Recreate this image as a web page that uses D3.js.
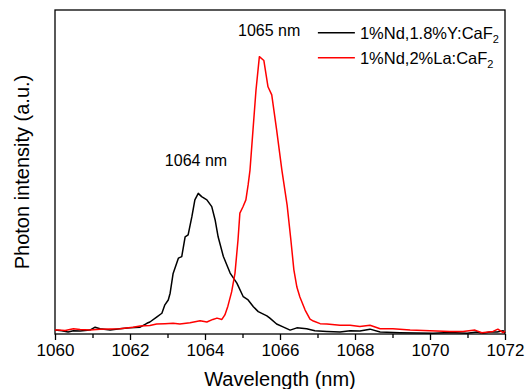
<!DOCTYPE html>
<html>
<head>
<meta charset="utf-8">
<script src="https://cdn.jsdelivr.net/npm/d3@7"></script>
<style>
  html, body { margin: 0; padding: 0; background: #fff; }
  svg { display: block; font-family: 'Liberation Sans', Arial, sans-serif; }
</style>
</head>
<body>
<div id="chart"></div>
<script>
// Data (wavelength in nm, intensity in a.u.)
const yLambda = [1060.00, 1060.18, 1060.35, 1060.49, 1060.67, 1060.93, 1061.07, 1061.20, 1061.47, 1061.73,
  1062.00, 1062.27, 1062.45, 1062.53, 1062.71, 1062.85, 1062.93, 1063.02, 1063.07, 1063.15,
  1063.29, 1063.38, 1063.47, 1063.55, 1063.65, 1063.73, 1063.82, 1063.91, 1064.05, 1064.18,
  1064.27, 1064.35, 1064.49, 1064.67, 1064.85, 1065.02, 1065.15, 1065.29, 1065.42, 1065.65,
  1065.73, 1065.91, 1066.08, 1066.27, 1066.45, 1066.71, 1066.93, 1067.25, 1067.60, 1067.87,
  1068.13, 1068.40, 1068.67, 1069.20, 1070.08, 1070.53, 1070.99, 1071.25, 1071.41, 1071.60,
  1071.79, 1071.95, 1072.00];
const yIntensity = [0.012, 0.010, 0.006, 0.010, 0.009, 0.012, 0.021, 0.016, 0.012, 0.016,
  0.019, 0.021, 0.033, 0.037, 0.052, 0.064, 0.090, 0.105, 0.126, 0.187,
  0.234, 0.239, 0.300, 0.306, 0.362, 0.414, 0.434, 0.424, 0.414, 0.393,
  0.352, 0.300, 0.239, 0.188, 0.157, 0.115, 0.105, 0.084, 0.069, 0.056,
  0.049, 0.031, 0.022, 0.012, 0.019, 0.016, 0.010, 0.008, 0.006, 0.010,
  0.009, 0.015, 0.006, 0.004, 0.002, 0.005, 0.002, 0.006, 0.002, 0.006,
  0.006, 0.010, 0.003];

const laLambda = [1060.00, 1060.08, 1060.27, 1060.49, 1060.67, 1060.93, 1061.20, 1061.73, 1062.08, 1062.27,
  1062.53, 1062.71, 1062.93, 1063.15, 1063.33, 1063.60, 1063.87, 1064.05, 1064.21, 1064.32,
  1064.45, 1064.53, 1064.61, 1064.71, 1064.80, 1064.88, 1064.93, 1065.01, 1065.09, 1065.15,
  1065.20, 1065.28, 1065.36, 1065.45, 1065.57, 1065.68, 1065.78, 1065.91, 1066.05, 1066.19,
  1066.29, 1066.37, 1066.45, 1066.53, 1066.67, 1066.80, 1066.89, 1067.07, 1067.25, 1067.60,
  1067.87, 1068.13, 1068.40, 1068.67, 1069.01, 1069.47, 1070.00, 1070.53, 1070.88, 1071.20,
  1071.38, 1071.68, 1071.81, 1071.95, 1072.00];
const laIntensity = [0.012, 0.012, 0.011, 0.016, 0.014, 0.012, 0.015, 0.016, 0.021, 0.025,
  0.026, 0.031, 0.032, 0.033, 0.031, 0.035, 0.041, 0.037, 0.045, 0.049,
  0.045, 0.059, 0.086, 0.130, 0.188, 0.290, 0.373, 0.392, 0.414, 0.460,
  0.506, 0.630, 0.753, 0.856, 0.844, 0.763, 0.738, 0.630, 0.506, 0.398,
  0.290, 0.198, 0.145, 0.114, 0.074, 0.046, 0.040, 0.032, 0.031, 0.027,
  0.027, 0.023, 0.027, 0.016, 0.016, 0.012, 0.010, 0.008, 0.008, 0.012,
  0.004, 0.008, 0.015, 0.004, 0.009];

const seriesNames = ['1%Nd,1.8%Y:CaF', '1%Nd,2%La:CaF'];
const seriesColors = ['#000000', '#ff0000'];
const xTicks = [1060, 1062, 1064, 1066, 1068, 1070, 1072];
const xMinorTicks = [1061, 1063, 1065, 1067, 1069, 1071];
const peakLabels = [
  { text: '1064 nm', x: 1063.76, y: 0.52 },
  { text: '1065 nm', x: 1065.71, y: 0.92 },
];

const WIDTH = 528;
const HEIGHT = 389;
const MARGIN = { top: 10, right: 23, bottom: 55, left: 55 };
const innerW = WIDTH - MARGIN.left - MARGIN.right;
const innerH = HEIGHT - MARGIN.top - MARGIN.bottom;

const svg = d3.select('#chart').append('svg')
  .attr('width', WIDTH)
  .attr('height', HEIGHT);

const g = svg.append('g')
  .attr('transform', `translate(${MARGIN.left},${MARGIN.top})`);

const x = d3.scaleLinear().domain([1060, 1072]).range([0, innerW]);
const y = d3.scaleLinear().domain([0, 1]).range([innerH, 0]);

// frame
g.append('rect')
  .attr('width', innerW)
  .attr('height', innerH)
  .attr('fill', 'none')
  .attr('stroke', '#000')
  .attr('stroke-width', 1.3);

// bottom axis, major + minor ticks
const xAxis = g.append('g')
  .attr('transform', `translate(0,${innerH})`)
  .call(d3.axisBottom(x).tickValues(xTicks).tickSize(6).tickPadding(4).tickFormat(d3.format('d')));
xAxis.select('.domain').remove();
xAxis.selectAll('text').attr('font-size', '17px').attr('fill', '#000').attr('font-family', 'Liberation Sans, Arial, sans-serif');
xAxis.selectAll('line').attr('stroke-width', 1.3);

const xMinor = g.append('g')
  .attr('transform', `translate(0,${innerH})`)
  .call(d3.axisBottom(x).tickValues(xMinorTicks).tickSize(4).tickFormat(''));
xMinor.select('.domain').remove();
xMinor.selectAll('line').attr('stroke-width', 1.3);

// series
const line = d3.line().x((d) => x(d[0])).y((d) => y(d[1]));
const series = [
  d3.zip(yLambda, yIntensity),
  d3.zip(laLambda, laIntensity),
];
series.forEach((data, i) => {
  g.append('path')
    .datum(data)
    .attr('fill', 'none')
    .attr('stroke', seriesColors[i])
    .attr('stroke-width', 1.5)
    .attr('stroke-linejoin', 'round')
    .attr('d', line);
});

// peak labels
peakLabels.forEach((p) => {
  g.append('text')
    .attr('x', x(p.x))
    .attr('y', y(p.y))
    .attr('text-anchor', 'middle')
    .attr('font-size', '16px')
    .text(p.text);
});

// legend
const legend = g.append('g').attr('transform', `translate(${x(1067.01)},${y(0.93)})`);
seriesNames.forEach((name, i) => {
  const row = legend.append('g').attr('transform', `translate(0,${i * 25})`);
  row.append('line')
    .attr('x1', 0).attr('x2', 37)
    .attr('y1', 0).attr('y2', 0)
    .attr('stroke', seriesColors[i])
    .attr('stroke-width', 1.5);
  const t = row.append('text')
    .attr('x', 42)
    .attr('y', 6)
    .attr('font-size', '16.5px');
  t.append('tspan').text(name);
  t.append('tspan').attr('font-size', '11px').attr('dy', 4).text('2');
});

// axis titles
svg.append('text')
  .attr('x', MARGIN.left + innerW / 2)
  .attr('y', 386)
  .attr('text-anchor', 'middle')
  .attr('font-size', '20px')
  .text('Wavelength (nm)');

svg.append('text')
  .attr('transform', `translate(29,${MARGIN.top + innerH / 2}) rotate(-90)`)
  .attr('text-anchor', 'middle')
  .attr('font-size', '20px')
  .text('Photon intensity (a.u.)');
</script>
</body>
</html>
